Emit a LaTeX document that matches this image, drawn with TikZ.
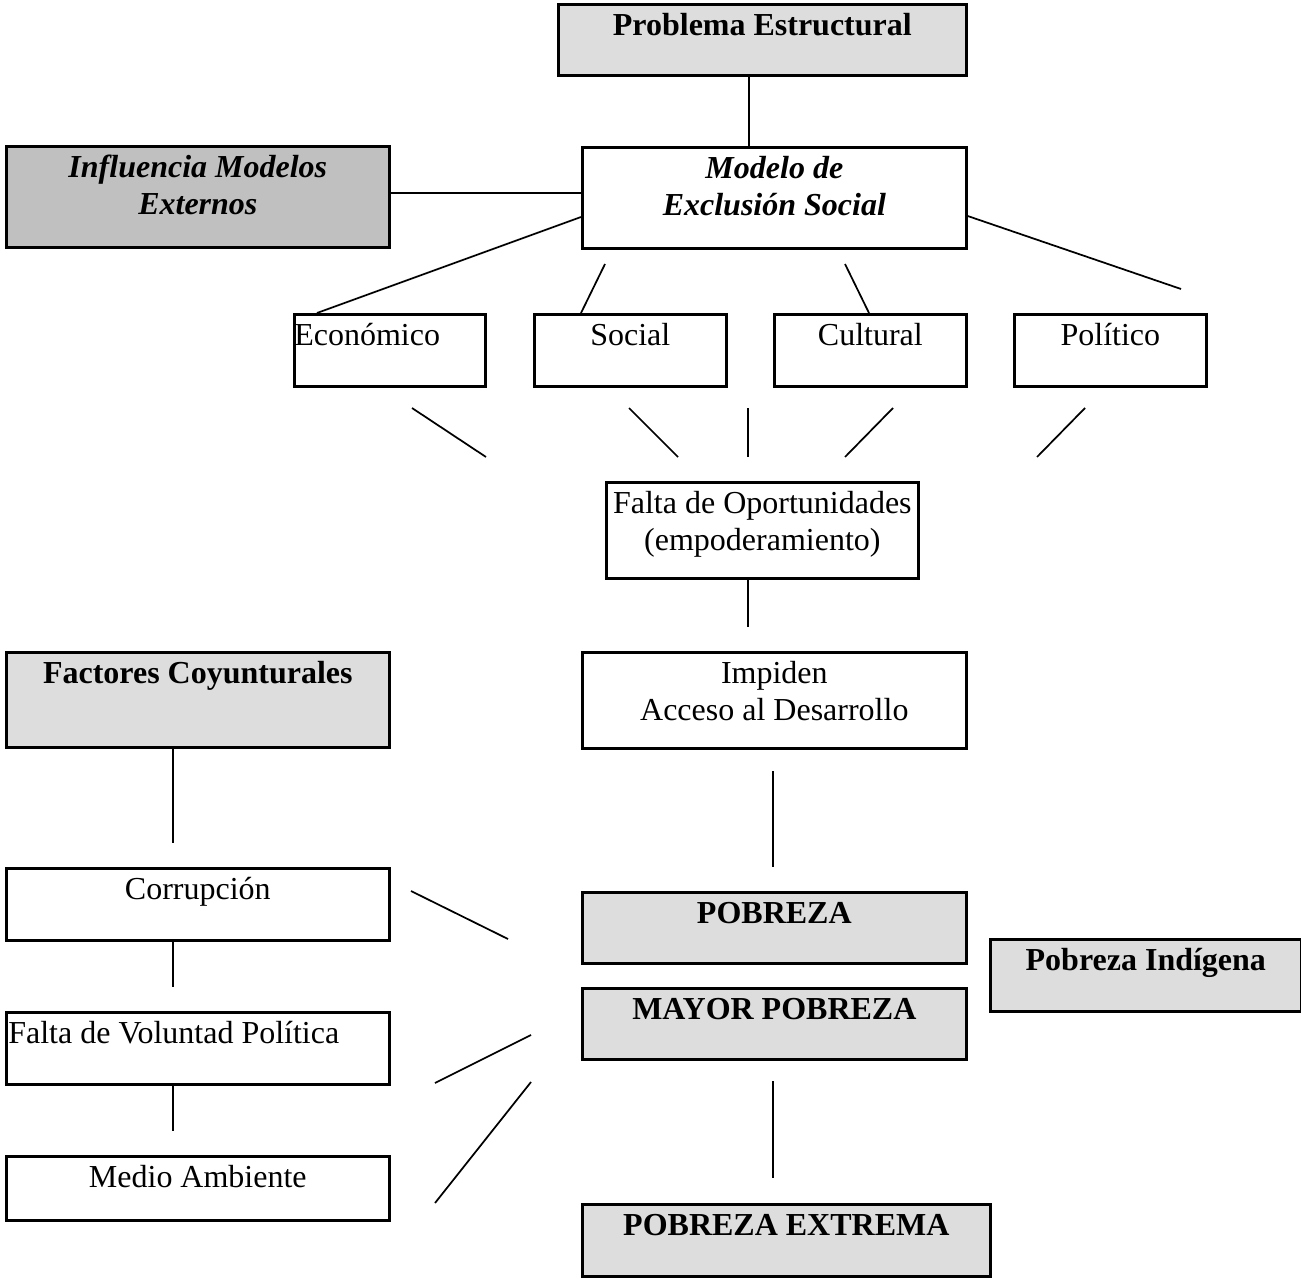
\documentclass[tikz,border=0pt]{standalone}
\usepackage{fontspec}
\setmainfont{Liberation Serif}
\usepackage{tikz}

\definecolor{boxgray}{HTML}{DDDDDD}
\definecolor{boxdark}{HTML}{C0C0C0}

% one pixel of the drawing
\newlength{\pxunit}
\setlength{\pxunit}{0.375pt}
% text set at the top of a box: [alignment]{width}{height}{text}
\newcommand{\boxtext}[4][\centering]{\parbox[t][#3\pxunit][t]{#2\pxunit}{#1\rule{0pt}{31\pxunit}#4}}

\begin{document}
\begin{tikzpicture}[x=0.375pt, y=-0.375pt]
    \tikzset{
        every node/.style = {font=\fontsize{12}{13.8}\selectfont},
        white box/.style = {
            draw = black,
            line width = 1pt,
            fill = white,
            inner sep = 0pt,
            anchor = north west
        },
        gray box/.style = {white box, fill = boxgray},
        dark box/.style = {white box, fill = boxdark},
        link/.style = {-, line width = 0.65pt}
    }
    \useasboundingbox (0,0) rectangle (1301,1278);

    % structural side
    \node[gray box]  (prob)   at (557, 3)     {\boxtext{408}{71}{\textbf{Problema Estructural}}};
    \node[white box] (model)  at (581, 146)   {\boxtext{384}{101}{\textbf{\textit{Modelo de\\Exclusión Social}}}};
    \node[dark box]  (infl)   at (5, 145)     {\boxtext{383}{101}{\textbf{\textit{Influencia Modelos\\Externos}}}};
    \node[white box] (econ)   at (293, 313)   {\boxtext[\raggedright]{191}{72}{Económico}};
    \node[white box] (social) at (533, 313)   {\boxtext{192}{72}{Social}};
    \node[white box] (cult)   at (773, 313)   {\boxtext{192}{72}{Cultural}};
    \node[white box] (polit)  at (1013, 313)  {\boxtext{192}{72}{Político}};
    \node[white box] (oport)  at (605, 481)   {\boxtext{312}{96}{Falta de Oportunidades\\(empoderamiento)}};
    \node[white box] (impid)  at (581, 651)   {\boxtext{384}{96}{Impiden\\Acceso al Desarrollo}};

    % conjunctural side
    \node[gray box]  (fact)   at (5, 651)     {\boxtext{383}{95}{\textbf{Factores Coyunturales}}};
    \node[white box] (corr)   at (5, 867)     {\boxtext{383}{72}{Corrupción}};
    \node[white box] (volun)  at (5, 1011)    {\boxtext[\raggedright\hspace*{2\pxunit}]{383}{72}{Falta de Voluntad Política}};
    \node[white box] (medio)  at (5, 1155)    {\boxtext{383}{64}{Medio Ambiente}};

    % poverty
    \node[gray box]  (pobr)   at (581, 891)   {\boxtext{384}{71}{\textbf{POBREZA}}};
    \node[gray box]  (mayor)  at (581, 987)   {\boxtext{384}{71}{\textbf{MAYOR POBREZA}}};
    \node[gray box]  (indig)  at (989, 938)   {\boxtext{311}{72}{\textbf{Pobreza Indígena}}};
    \node[gray box]  (extr)   at (581, 1203)  {\boxtext{408}{72}{\textbf{POBREZA EXTREMA}}};

    % loose line ends
    \coordinate (soc-top)   at (605, 264);
    \coordinate (cult-top)  at (845, 264);
    \coordinate (pol-end)   at (1181, 289);
    \coordinate (fan1-a)    at (412, 408);
    \coordinate (fan1-b)    at (486, 457);
    \coordinate (fan2-a)    at (629, 408);
    \coordinate (fan2-b)    at (678, 457);
    \coordinate (fan3-a)    at (748, 408);
    \coordinate (fan3-b)    at (748, 457);
    \coordinate (fan4-a)    at (893, 408);
    \coordinate (fan4-b)    at (845, 457);
    \coordinate (fan5-a)    at (1085, 408);
    \coordinate (fan5-b)    at (1037, 457);
    \coordinate (oport-end) at (748, 627);
    \coordinate (imp-a)     at (773, 771);
    \coordinate (imp-b)     at (773, 867);
    \coordinate (fact-end)  at (173, 843);
    \coordinate (corr-end)  at (173, 987);
    \coordinate (vol-end)   at (173, 1131);
    \coordinate (diag1-a)   at (411, 891);
    \coordinate (diag1-b)   at (508, 939);
    \coordinate (diag2-a)   at (435, 1083);
    \coordinate (diag2-b)   at (531, 1035);
    \coordinate (diag3-a)   at (435, 1203);
    \coordinate (diag3-b)   at (531, 1082);
    \coordinate (may-a)     at (773, 1081);
    \coordinate (may-b)     at (773, 1178);

    \draw[link] (prob.south -| 749,0) -- (model.north -| 749,0);
    \draw[link] (infl.east |- 0,193) -- (model.west |- 0,193);
    \draw[link] (model.west |- 0,217) -- (econ.north -| 317,0);
    \draw[link] (soc-top) -- (social.north -| 581,0);
    \draw[link] (cult-top) -- (cult.north -| 869,0);
    \draw[link] (model.east |- 0,216) -- (pol-end);

    \draw[link] (fan1-a) -- (fan1-b);
    \draw[link] (fan2-a) -- (fan2-b);
    \draw[link] (fan3-a) -- (fan3-b);
    \draw[link] (fan4-a) -- (fan4-b);
    \draw[link] (fan5-a) -- (fan5-b);

    \draw[link] (oport.south -| oport-end) -- (oport-end);
    \draw[link] (imp-a) -- (imp-b);
    \draw[link] (fact.south -| fact-end) -- (fact-end);
    \draw[link] (corr.south -| corr-end) -- (corr-end);
    \draw[link] (volun.south -| vol-end) -- (vol-end);

    \draw[link] (diag1-a) -- (diag1-b);
    \draw[link] (diag2-a) -- (diag2-b);
    \draw[link] (diag3-a) -- (diag3-b);
    \draw[link] (may-a) -- (may-b);

\end{tikzpicture}
\end{document}
